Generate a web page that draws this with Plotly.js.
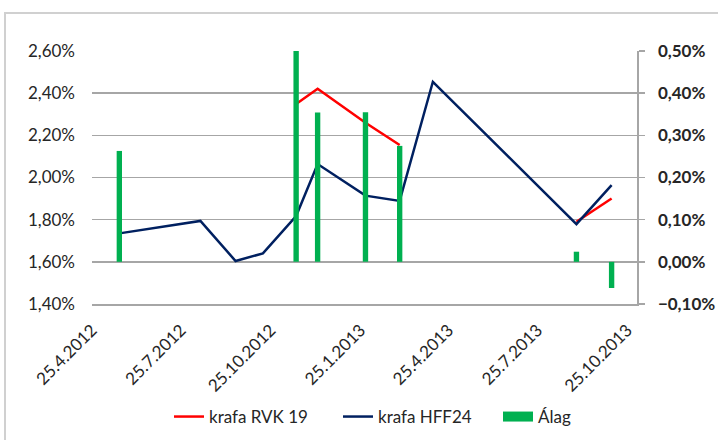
<!DOCTYPE html>
<html>
<head>
<meta charset="utf-8">
<script src="https://cdn.plot.ly/plotly-3.0.1.min.js"></script>
<style>
html,body{margin:0;padding:0;background:#fff;}
#chart{width:718px;height:440px;}
</style>
</head>
<body>
<div id="chart"></div>
<script>
// Dates of observations
const datesHFF = ['2012-05-23','2012-08-14','2012-09-19','2012-10-17','2012-11-20','2012-12-12','2013-01-30','2013-03-06','2013-04-09','2013-09-03','2013-10-09'];
const valuesHFF = [1.735, 1.794, 1.604, 1.640, 1.817, 2.064, 1.914, 1.889, 2.454, 1.779, 1.964];

const datesRVK = ['2012-11-20','2012-12-12','2013-01-30','2013-03-06','2013-04-09','2013-09-03','2013-10-09'];
const valuesRVK = [2.349, 2.421, 2.260, 2.154, null, 1.790, 1.900];

const datesAlag = ['2012-05-23','2012-11-20','2012-12-12','2013-01-30','2013-03-06','2013-09-03','2013-10-09'];
const valuesAlag = [0.263, 0.500, 0.354, 0.355, 0.275, 0.024, -0.062];

const xTickVals = ['2012-04-25','2012-07-25','2012-10-25','2013-01-25','2013-04-25','2013-07-25','2013-10-25'];
const xTickText = ['25.4.2012','25.7.2012','25.10.2012','25.1.2013','25.4.2013','25.7.2013','25.10.2013'];

const seriesNames = ['krafa RVK 19','krafa HFF24','Álag'];

const DAY = 86400000;
const font = 'Lato, "Open Sans", "DejaVu Sans", sans-serif';
const GREEN = '#00b050';

const traces = [
  {
    type: 'bar', x: datesAlag, y: valuesAlag, name: seriesNames[2], yaxis: 'y2',
    width: datesAlag.map(() => 5.5 * DAY),
    marker: {color: GREEN, line: {width: 0}},
    showlegend: false
  },
  {
    type: 'scatter', mode: 'lines', x: datesRVK, y: valuesRVK, name: seriesNames[0],
    line: {color: '#ff0000', width: 2.5}, connectgaps: false, legend: 'legend'
  },
  {
    type: 'scatter', mode: 'lines', x: datesHFF, y: valuesHFF, name: seriesNames[1],
    line: {color: '#002060', width: 2.5}, legend: 'legend2'
  },
  {
    // legend swatch for the bar series (wide green block as in the original)
    type: 'scatter', mode: 'lines', x: [null], y: [null], name: seriesNames[2],
    line: {color: GREEN, width: 14}, hoverinfo: 'skip', legend: 'legend3'
  }
];

function legendAt(px) {
  return {
    orientation: 'h', xref: 'container', yref: 'container',
    x: px / 718, xanchor: 'left', y: (440 - 417) / 440, yanchor: 'middle',
    bgcolor: 'rgba(0,0,0,0)', borderwidth: 0,
    font: {family: font, size: 17, color: '#262626'}, itemwidth: 30
  };
}

const layout = {
  width: 718, height: 440,
  margin: {l: 92, r: 81, t: 51, b: 136, autoexpand: false},
  paper_bgcolor: '#ffffff', plot_bgcolor: '#ffffff',
  separators: ', ',
  font: {family: font, size: 17, color: '#262626'},
  showlegend: true,
  legend: legendAt(169),
  legend2: legendAt(338),
  legend3: legendAt(498),
  barmode: 'overlay',
  xaxis: {
    type: 'date', automargin: false,
    range: ['2012-04-25', '2013-11-04'],
    tickmode: 'array', tickvals: xTickVals, ticktext: xTickText,
    tickangle: -45, showgrid: false, zeroline: false,
    showline: true, linecolor: '#a6a6a6', linewidth: 1.5,
    ticks: '', ticklabelstandoff: 8,
    tickfont: {family: font, size: 17, color: '#262626'}
  },
  yaxis: {
    range: [1.4, 2.6], dtick: 0.2, tick0: 1.4, automargin: false,
    tickformat: '.2f', ticksuffix: '%',
    showgrid: true, gridcolor: '#a6a6a6', gridwidth: 1.5,
    zeroline: false, showline: false, ticks: '',
    ticklabelstandoff: 16,
    tickfont: {family: font, size: 17, color: '#262626'}
  },
  yaxis2: {
    overlaying: 'y', side: 'right', automargin: false,
    range: [-0.1, 0.5], dtick: 0.1, tick0: -0.1,
    tickformat: '.2f', ticksuffix: '%',
    showgrid: false, zeroline: false,
    showline: true, linecolor: '#a6a6a6', linewidth: 1.5,
    ticks: 'outside', ticklen: 6, tickcolor: '#a6a6a6', tickwidth: 1.5,
    ticklabelstandoff: 10,
    tickfont: {family: font, size: 17, color: '#262626', weight: 'bold'}
  },
  shapes: [{
    type: 'rect', xref: 'paper', yref: 'paper',
    x0: (5 - 92) / 545, x1: (722 - 92) / 545,
    y0: (304 - 445) / 253, y1: (304 - 13) / 253,
    line: {color: '#d0d0d0', width: 2}, fillcolor: 'rgba(0,0,0,0)', layer: 'below'
  }]
};

Plotly.newPlot('chart', traces, layout, {displayModeBar: false, staticPlot: true});
</script>
</body>
</html>
